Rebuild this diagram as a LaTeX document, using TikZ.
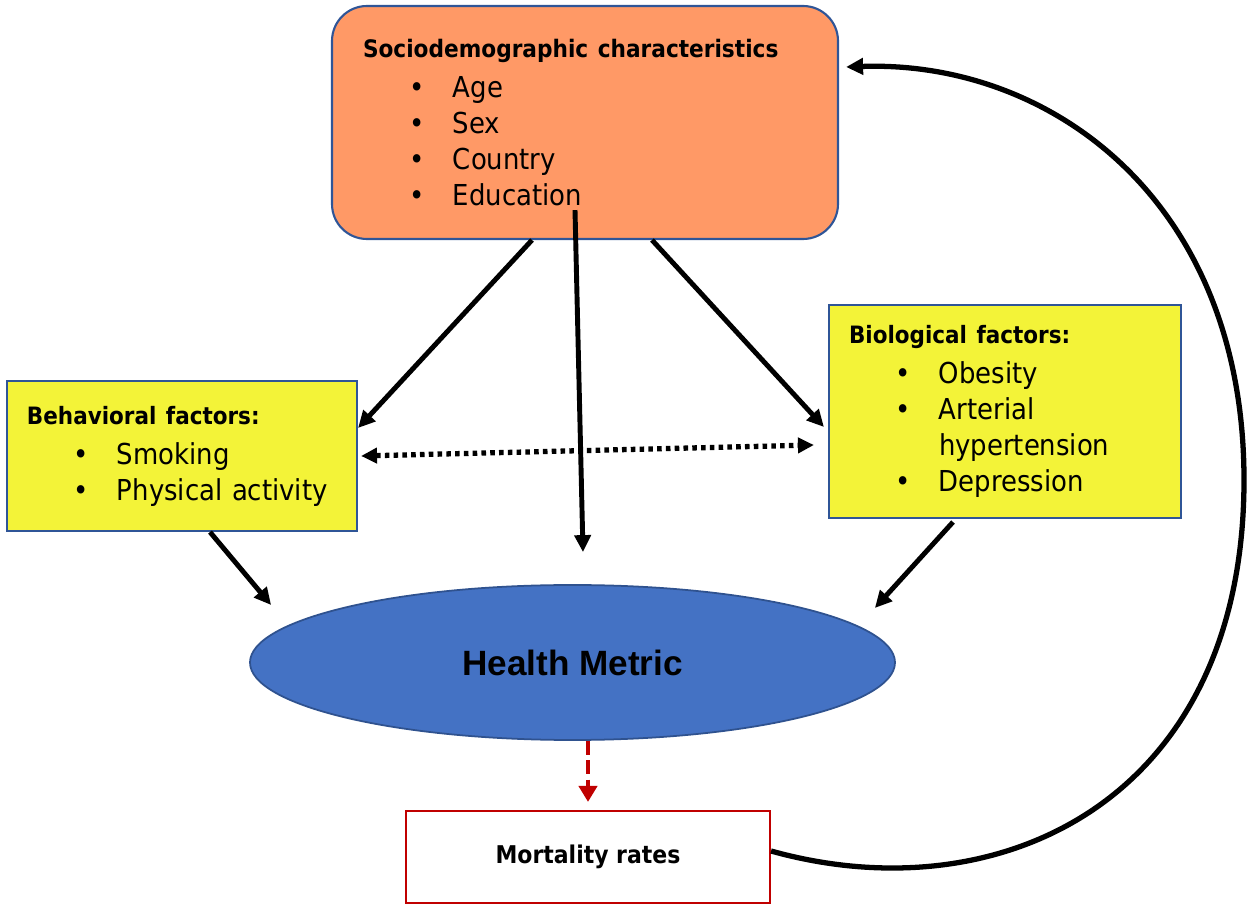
\documentclass[tikz,border=0pt]{standalone}
\usepackage{fontspec}
\setmainfont{DejaVu Sans Condensed}
\newfontfamily\metricfont{Liberation Sans}
\usetikzlibrary{arrows.meta,shapes.geometric}

\definecolor{sociofill}{HTML}{FF9966}
\definecolor{factorfill}{HTML}{F3F338}
\definecolor{boxline}{HTML}{2F5597}
\definecolor{metricfill}{HTML}{4472C4}
\definecolor{metricline}{HTML}{2F528F}
\definecolor{mortred}{HTML}{C00000}

\newcommand{\bitem}[1]{\\\hspace*{0.92cm}\makebox[0.88cm][l]{\textbullet}#1}
\newcommand{\bhead}[2]{{\bfseries\fontsize{#1}{20.5}\selectfont #2}\\[-18.2pt]\mbox{}}

\begin{document}
\begin{tikzpicture}[
  itemfont/.style={font=\fontsize{16.4}{20.5}\selectfont},
  sociobox/.style={draw=boxline, line width=1.2pt, fill=sociofill, rounded corners=0.7cm,
    itemfont, align=left, inner ysep=0pt},
  factorbox/.style={draw=boxline, line width=1.2pt, fill=factorfill,
    itemfont, align=left, inner ysep=0pt, inner xsep=0.4cm},
  metric/.style={ellipse, draw=metricline, line width=1pt, fill=metricfill, inner sep=0pt,
    minimum width=12.9cm, minimum height=3.1cm, font=\metricfont\bfseries\fontsize{20}{24}\selectfont},
  mortbox/.style={draw=mortred, line width=1.2pt, fill=white, minimum width=7.28cm,
    minimum height=1.84cm, font=\bfseries\fontsize{13.9}{16}\selectfont},
  arrow/.style={-{Triangle[length=0.34cm,width=0.32cm]}, line width=2.8pt, black},
  dotarrow/.style={{Triangle[length=0.32cm,width=0.3cm]}-{Triangle[length=0.32cm,width=0.3cm]},
    line width=3pt, dash pattern=on 2.6pt off 2.4pt, black},
  redarrow/.style={-{Triangle[length=0.32cm,width=0.36cm]}, line width=2.8pt,
    dash pattern=on 8pt off 3pt, mortred}
]
\useasboundingbox (0,0) rectangle (24.96,-18.14);

% Top box
\node[sociobox, minimum width=10.12cm, minimum height=4.66cm, inner xsep=0.62cm,
  text width=8.88cm] (socio) at (11.70,-2.45)
  {\bhead{13.7}{Sociodemographic characteristics}
   \bitem{Age}\bitem{Sex}\bitem{Country}\bitem{Education}};

% Factor boxes
\node[factorbox, minimum width=7.0cm, minimum height=3.0cm, text width=6.2cm] (behav) at (3.64,-9.12)
  {\bhead{13.6}{Behavioral factors:}
   \bitem{Smoking}\bitem{Physical activity}};
\node[factorbox, minimum width=7.04cm, minimum height=4.26cm, text width=6.24cm] (bio) at (20.10,-8.23)
  {\bhead{13.6}{Biological factors:}
   \bitem{Obesity}\bitem{Arterial}\\\hspace*{1.8cm}hypertension\bitem{Depression}};

% Outcome
\node[metric] (metric) at (11.45,-13.25) {Health Metric};
\node[mortbox] (mort) at (11.76,-17.14) {Mortality rates};
\coordinate (loopR) at (24.88,-9.6);

% Arrows
\draw[arrow] ([xshift=-1.06cm]socio.south) -- ([yshift=0.56cm]behav.east);
\draw[arrow] ([xshift=-0.2cm,yshift=0.6cm]socio.south) -- ([xshift=0.21cm,yshift=0.64cm]metric.north);
\draw[arrow] ([xshift=1.34cm]socio.south) -- ([xshift=-0.08cm,yshift=-0.31cm]bio.west);
\draw[dotarrow] ([xshift=0.06cm]behav.east) -- ([xshift=-0.28cm,yshift=-0.67cm]bio.west);
\draw[arrow] ([xshift=0.56cm]behav.south) -- ([xshift=0.44cm,yshift=1.15cm]metric.west);
\draw[arrow] ([xshift=-1.04cm,yshift=-0.06cm]bio.south) -- ([xshift=-0.42cm,yshift=1.09cm]metric.east);
\draw[redarrow] ([xshift=0.31cm]metric.south) -- ([yshift=0.16cm]mort.north);
\draw[arrow, line width=3pt] ([yshift=0.12cm]mort.east)
  .. controls (20,-18.3) and (24.88,-16) .. (loopR)
  .. controls (24.88,-4) and (21,-1.2) .. ([xshift=0.14cm,yshift=1.11cm]socio.east);
\end{tikzpicture}
\end{document}
